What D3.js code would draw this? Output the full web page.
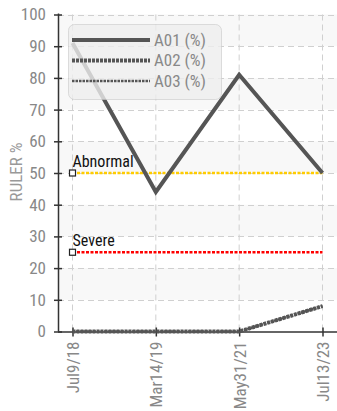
<!DOCTYPE html>
<html><head><meta charset="utf-8">
<script src="https://cdn.jsdelivr.net/npm/d3@7"></script>
<style>
body{margin:0;background:#fff;}
svg{display:block;}
text{font-family:"Liberation Sans Narrow","Roboto Condensed","DejaVu Sans Condensed",sans-serif;}
</style></head>
<body>
<script>
const categories = ["Jul9/18","Mar14/19","May31/21","Jul13/23"];
const seriesNames = ["A01 (%)","A02 (%)","A03 (%)"];
const a01 = [91, 44, 81, 50];
const a02 = [0, 0, 0, 8];
const a03 = [0, 0, 0, 8];
const yTicks = [0,10,20,30,40,50,60,70,80,90,100];
const thresholds = [{label:"Abnormal", value:50, color:"#ffcc00"},{label:"Severe", value:25, color:"#ff0000"}];

(function(){
const W=337,H=411;
const svg=d3.select("body").append("svg").attr("width",W).attr("height",H);
const pL=58, pR=337, pT=14.5, pB=331.5;
const x=d3.scalePoint().domain(categories).range([72.5,322.5]);
const y=d3.scaleLinear().domain([0,100]).range([pB,pT]);

// bands
const bands=[[10,20],[30,40],[50,60],[70,80],[90,100]];
svg.append("g").selectAll("rect").data(bands).join("rect")
 .attr("x",pL).attr("width",pR-pL)
 .attr("y",d=>y(d[1])).attr("height",d=>y(d[0])-y(d[1]))
 .attr("fill","#f8f8f8");

// grid
svg.append("g").selectAll("line").data(yTicks.filter(d=>d>0)).join("line")
 .attr("x1",pL).attr("x2",pR).attr("y1",d=>Math.round(y(d))+0.5).attr("y2",d=>Math.round(y(d))+0.5)
 .attr("stroke","#d0d0d0").attr("stroke-dasharray","6,4");
svg.append("g").selectAll("line").data(categories).join("line")
 .attr("x1",d=>x(d)).attr("x2",d=>x(d)).attr("y1",pT).attr("y2",pB)
 .attr("stroke","#d0d0d0").attr("stroke-dasharray","6,4");

// y axis
const yAxis=svg.append("g").attr("transform",`translate(${pL},0)`)
 .call(d3.axisLeft(y).tickValues(yTicks).tickSizeInner(4).tickSizeOuter(0).tickPadding(8));
yAxis.selectAll(".tick line").attr("x1",-4).attr("x2",4).attr("stroke","#333").attr("stroke-width",1.5);
yAxis.select(".domain").attr("stroke","#333").attr("stroke-width",1.5).attr("d",`M0.5,${pT-1}V${pB}`);
yAxis.selectAll("text").attr("fill","#888").attr("font-size",17).attr("font-family","\"Liberation Sans Narrow\",\"DejaVu Sans Condensed\",sans-serif");

// x axis
const xAxis=svg.append("g").attr("transform",`translate(0,${pB})`)
 .call(d3.axisBottom(x).tickSizeInner(4).tickSizeOuter(0).tickPadding(8));
xAxis.selectAll(".tick line").attr("y1",-4).attr("y2",5).attr("stroke","#333").attr("stroke-width",1.5);
xAxis.select(".domain").attr("stroke","#333").attr("stroke-width",1.5).attr("d",`M${pL},0.5H${pR}`);
xAxis.selectAll("text").attr("fill","#888").attr("font-size",17)
 .attr("text-anchor","end").attr("transform","rotate(-90)").attr("x",-10).attr("y",0).attr("dy","0.35em")
 .attr("font-family","\"Liberation Sans Narrow\",\"DejaVu Sans Condensed\",sans-serif");

// y title
svg.append("text").attr("transform",`translate(22,172) rotate(-90)`).attr("text-anchor","middle")
 .attr("fill","#999").attr("font-size",17).text("RULER %");

// thresholds
thresholds.forEach(t=>{
 svg.append("line").attr("x1",x(categories[0])).attr("x2",x(categories[categories.length-1]))
  .attr("y1",y(t.value)).attr("y2",y(t.value)).attr("stroke",t.color).attr("stroke-width",2.5).attr("stroke-dasharray","3,1.5");
 svg.append("rect").attr("x",x(categories[0])-3).attr("y",y(t.value)-3).attr("width",6).attr("height",6)
  .attr("fill","#fff").attr("stroke","#222").attr("stroke-width",1.2);
 svg.append("text").attr("x",x(categories[0])).attr("y",y(t.value)-6).attr("fill","#111")
  .attr("font-size",16).text(t.label);
});

const line=d3.line().x((d,i)=>x(categories[i])).y(d=>y(d));
const styles=[{w:4,dash:null},{w:4,dash:"3,1"},{w:2.5,dash:"2.5,1"}];
[a03,a02,a01].forEach((s,k)=>{
 const st=styles[2-k];
 svg.append("path").datum(s).attr("d",line).attr("fill","none").attr("stroke","#555")
  .attr("stroke-width",st.w).attr("stroke-dasharray",st.dash);
});

// legend
const lg=svg.append("g");
lg.append("rect").attr("x",68.5).attr("y",24.5).attr("width",153).attr("height",75).attr("rx",6)
 .attr("fill","rgba(238,238,238,0.8)").attr("stroke","rgba(200,200,200,0.6)");
seriesNames.forEach((n,i)=>{
 const yy=40+i*20.5;
 const st=styles[i];
 lg.append("line").attr("x1",72).attr("x2",150).attr("y1",yy).attr("y2",yy).attr("stroke","#555")
  .attr("stroke-width",st.w).attr("stroke-dasharray",st.dash);
 lg.append("text").attr("x",154).attr("y",yy).attr("dy","0.35em").attr("fill","#888").attr("font-size",17).text(n);
});
})();
</script>
</body></html>
